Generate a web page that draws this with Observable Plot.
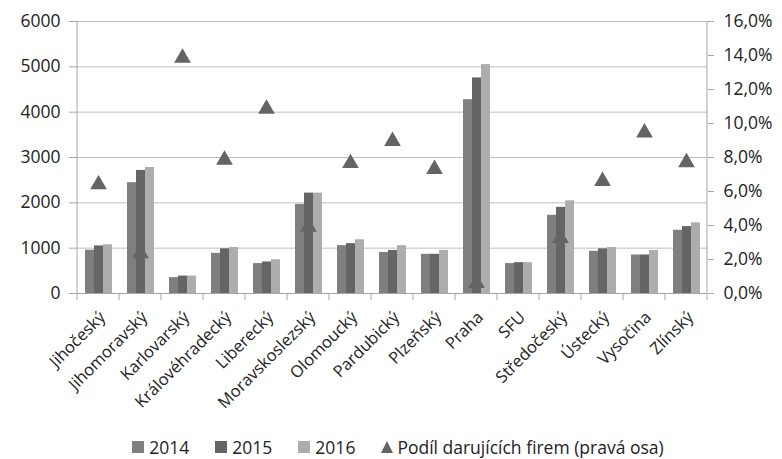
<!DOCTYPE html>
<html><head><meta charset="utf-8">
<script src="https://cdn.jsdelivr.net/npm/d3@7"></script>
<script src="https://cdn.jsdelivr.net/npm/@observablehq/plot@0.6"></script>
<style>
body{margin:0;background:#fff;font-family:"Open Sans",sans-serif;color:#222;}
#legend{display:flex;justify-content:center;align-items:center;height:28px;font-size:17.5px;color:#222;margin-left:40px}
#legend .it{display:flex;align-items:center;margin-right:26px}
#legend .sw{width:12px;height:12px;margin-right:5px}
#legend .tri{width:0;height:0;border-left:6.5px solid transparent;border-right:6.5px solid transparent;border-bottom:12px solid #646464;margin-right:4px}
</style></head>
<body><div id="chart"></div><div id="legend"></div>
<script>
const categories = ["Jihočeský","Jihomoravský","Karlovarský","Královéhradecký","Liberecký","Moravskoslezský","Olomoucký","Pardubický","Plzeňský","Praha","SFU","Středočeský","Ústecký","Vysočina","Zlínský"];
const years = ["2014","2015","2016"];
const v2014 = [955,2445,350,885,660,1965,1055,905,865,4275,660,1725,930,850,1395];
const v2015 = [1050,2715,385,985,695,2215,1100,950,865,4755,680,1900,985,850,1475];
const v2016 = [1075,2780,385,1015,745,2215,1185,1055,950,5050,680,2045,1015,950,1560];
const share = [6.55,2.5,14.0,8.0,11.0,4.05,7.8,9.1,7.45,0.75,null,3.4,6.75,9.6,7.85];
const leftTicks = [0,1000,2000,3000,4000,5000,6000];
const rightTicks = [0,2,4,6,8,10,12,14,16];
const seriesColors = ["#7f7f7f","#656565","#adadad"];
const shareLabel = "Podíl darujících firem (pravá osa)";

const series = [v2014, v2015, v2016];
const rows = categories.flatMap((c,i) => years.map((yr,j) => ({region:c, year:yr, value:series[j][i]})));
const shareRows = categories.map((c,i) => ({region:c, share:share[i]})).filter(d => d.share != null);
const k = 6000/16;

const plot = Plot.plot({
  width: 782, height: 433,
  marginLeft: 71, marginRight: 70, marginTop: 21, marginBottom: 140,
  style: {fontFamily: "Open Sans", fontSize: "16px", color: "#222", background: "#fff"},
  fx: {domain: categories, padding: 0, label: null},
  x: {domain: years, paddingInner: 0, paddingOuter: 0.64, axis: null},
  y: {domain: [0,6000], label: null},
  color: {domain: years, range: seriesColors},
  marks: [
    Plot.gridY(leftTicks, {stroke: "#bfbfbf", strokeOpacity: 1}),
    Plot.barY(rows, {fx: "region", x: "year", y: "value", fill: "year"}),
    Plot.ruleY([0], {stroke: "#a6a6a6"}),
    Plot.dot(shareRows, {fx: "region", y: d => d.share*k, symbol: "triangle", r: 6.2, fill: "#646464", stroke: null, dy: 2.4}),
    Plot.axisY({anchor: "left", ticks: leftTicks, tickFormat: d => String(d), tickSize: 8, tickPadding: 9, stroke: "#a6a6a6", fill: "#222", fontSize: 17.5, label: null}),
    Plot.axisY({anchor: "right", ticks: rightTicks.map(v => v*k), tickFormat: d => (d/k).toFixed(1).replace(".", ",") + "%", tickSize: 6, tickPadding: 10, stroke: "#a6a6a6", fill: "#222", fontSize: 17.5, label: null}),
    Plot.axisFx({anchor: "bottom", tickRotate: -45, tickSize: 0, tickPadding: 7, dy: 14, dx: 4, fill: "#222", fontSize: 16.5, label: null})
  ]
});
document.getElementById("chart").appendChild(plot);

// axis lines and category boundary ticks using the plot's own scales
const fx = plot.scale("fx"), y = plot.scale("y");
const svg = d3.select(plot);
const y0 = y.apply(0), y1 = y.apply(6000);
const xl = fx.apply(categories[0]);
const xr = fx.apply(categories[categories.length-1]) + fx.bandwidth;
const g = svg.append("g").attr("stroke", "#a6a6a6");
g.append("line").attr("x1", xl).attr("x2", xl).attr("y1", y1).attr("y2", y0);
g.append("line").attr("x1", xr).attr("x2", xr).attr("y1", y1).attr("y2", y0);
categories.concat([null]).forEach((c,i) => {
  const x = c == null ? xr : fx.apply(c);
  g.append("line").attr("x1", x).attr("x2", x).attr("y1", y0).attr("y2", y0+7);
});

const lg = d3.select("#legend");
years.forEach((yr,j) => {
  const it = lg.append("div").attr("class","it");
  it.append("div").attr("class","sw").style("background", seriesColors[j]);
  it.append("span").text(yr);
});
const it = lg.append("div").attr("class","it");
it.append("div").attr("class","tri");
it.append("span").text(shareLabel);
</script></body></html>
